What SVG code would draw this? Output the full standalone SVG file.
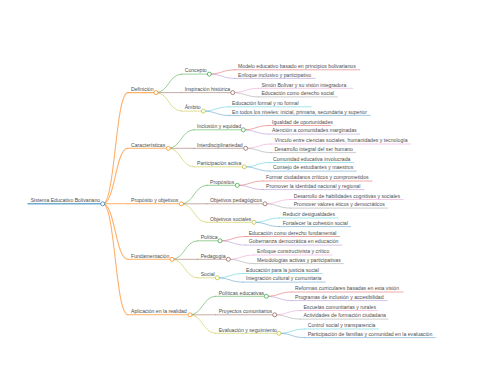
<svg xmlns="http://www.w3.org/2000/svg" width="480" height="384" viewBox="0 0 480 384">
<style>
text{font-family:"Liberation Sans",Arial,Helvetica,sans-serif;font-size:5.15px;fill:#4d4d4d}
path,line{fill:none;stroke-linecap:round;stroke-opacity:0.62}
circle{fill:#fff;stroke-width:0.7}
.d0{stroke-width:1.4}.d1{stroke-width:1.1}.d2{stroke-width:0.8}.d3{stroke-width:0.65}
.cb{stroke:#1f77b4}.co{stroke:#ff7f0e}.cg{stroke:#2ca02c}.cr{stroke:#d62728}.cp{stroke:#9467bd}
.cn{stroke:#8c564b}.ck{stroke:#e377c2}.cy{stroke:#7f7f7f}.cl{stroke:#bcbd22}.cc{stroke:#17becf}
</style>
<rect width="480" height="384" fill="#fff"/>
<g id="connectors">
<path class="d1 co" d="M102.7,203.8 C115.3,203.8 115.3,92.6 128,92.6"/>
<path class="d1 co" d="M102.7,203.8 C115.3,203.8 115.3,148.3 128,148.3"/>
<path class="d1 co" d="M102.7,203.8 L128,203.8"/>
<path class="d1 co" d="M102.7,203.8 C115.3,203.8 115.3,259.3 128,259.3"/>
<path class="d1 co" d="M102.7,203.8 C115.3,203.8 115.3,314.8 128,314.8"/>
<path class="d2 cg" d="M156,92.6 C168.8,92.6 168.8,74.1 181.6,74.1"/>
<path class="d2 cn" d="M156,92.6 L181.6,92.6"/>
<path class="d2 cl" d="M156,92.6 C168.8,92.6 168.8,111.1 181.6,111.1"/>
<path class="d2 cg" d="M168.3,148.3 C181.1,148.3 181.1,129.8 193.9,129.8"/>
<path class="d2 cn" d="M168.3,148.3 L193.9,148.3"/>
<path class="d2 cl" d="M168.3,148.3 C181.1,148.3 181.1,166.8 193.9,166.8"/>
<path class="d2 cg" d="M181.3,203.8 C194.1,203.8 194.1,185.3 206.9,185.3"/>
<path class="d2 cn" d="M181.3,203.8 L206.9,203.8"/>
<path class="d2 cl" d="M181.3,203.8 C194.1,203.8 194.1,222.3 206.9,222.3"/>
<path class="d2 cg" d="M172,259.3 C184.8,259.3 184.8,240.8 197.6,240.8"/>
<path class="d2 cn" d="M172,259.3 L197.6,259.3"/>
<path class="d2 cl" d="M172,259.3 C184.8,259.3 184.8,277.8 197.6,277.8"/>
<path class="d2 cg" d="M190,314.8 C202.8,314.8 202.8,296.3 215.6,296.3"/>
<path class="d2 cn" d="M190,314.8 L215.6,314.8"/>
<path class="d2 cl" d="M190,314.8 C202.8,314.8 202.8,333.3 215.6,333.3"/>
<path class="d3 cr" d="M209.3,74.1 C222.1,74.1 222.1,69.8 234.9,69.8"/>
<path class="d3 cp" d="M209.3,74.1 C222.1,74.1 222.1,78.4 234.9,78.4"/>
<path class="d3 ck" d="M232.7,92.6 C245.5,92.6 245.5,88.3 258.3,88.3"/>
<path class="d3 cy" d="M232.7,92.6 C245.5,92.6 245.5,96.9 258.3,96.9"/>
<path class="d3 cc" d="M203.3,111.1 C216.1,111.1 216.1,106.8 228.9,106.8"/>
<path class="d3 cb" d="M203.3,111.1 C216.1,111.1 216.1,115.4 228.9,115.4"/>
<path class="d3 cr" d="M243.3,129.8 C256.1,129.8 256.1,125.5 268.9,125.5"/>
<path class="d3 cp" d="M243.3,129.8 C256.1,129.8 256.1,134.1 268.9,134.1"/>
<path class="d3 ck" d="M245.7,148.3 C258.5,148.3 258.5,144 271.3,144"/>
<path class="d3 cy" d="M245.7,148.3 C258.5,148.3 258.5,152.6 271.3,152.6"/>
<path class="d3 cc" d="M244.3,166.8 C257.1,166.8 257.1,162.5 269.9,162.5"/>
<path class="d3 cb" d="M244.3,166.8 C257.1,166.8 257.1,171.1 269.9,171.1"/>
<path class="d3 cr" d="M237.3,185.3 C250.1,185.3 250.1,181 262.9,181"/>
<path class="d3 cp" d="M237.3,185.3 C250.1,185.3 250.1,189.6 262.9,189.6"/>
<path class="d3 ck" d="M265,203.8 C277.8,203.8 277.8,199.5 290.6,199.5"/>
<path class="d3 cy" d="M265,203.8 C277.8,203.8 277.8,208.1 290.6,208.1"/>
<path class="d3 cc" d="M254,222.3 C266.8,222.3 266.8,218 279.6,218"/>
<path class="d3 cb" d="M254,222.3 C266.8,222.3 266.8,226.6 279.6,226.6"/>
<path class="d3 cr" d="M220,240.8 C232.8,240.8 232.8,236.5 245.6,236.5"/>
<path class="d3 cp" d="M220,240.8 C232.8,240.8 232.8,245.1 245.6,245.1"/>
<path class="d3 ck" d="M228.3,259.3 C241.1,259.3 241.1,255 253.9,255"/>
<path class="d3 cy" d="M228.3,259.3 C241.1,259.3 241.1,263.6 253.9,263.6"/>
<path class="d3 cc" d="M217.3,277.8 C230.1,277.8 230.1,273.5 242.9,273.5"/>
<path class="d3 cb" d="M217.3,277.8 C230.1,277.8 230.1,282.1 242.9,282.1"/>
<path class="d3 cr" d="M266.3,296.3 C279.1,296.3 279.1,292 291.9,292"/>
<path class="d3 cp" d="M266.3,296.3 C279.1,296.3 279.1,300.6 291.9,300.6"/>
<path class="d3 ck" d="M274.7,314.8 C287.5,314.8 287.5,310.5 300.3,310.5"/>
<path class="d3 cy" d="M274.7,314.8 C287.5,314.8 287.5,319.1 300.3,319.1"/>
<path class="d3 cc" d="M279,333.3 C291.8,333.3 291.8,329 304.6,329"/>
<path class="d3 cb" d="M279,333.3 C291.8,333.3 291.8,337.6 304.6,337.6"/>
</g>
<g id="root"><line class="d0 cb" x1="28" y1="203.8" x2="102.7" y2="203.8"/><circle class="cb" cx="102.7" cy="203.8" r="2"/><text x="30.7" y="202">Sistema Educativo Bolivariano</text></g>
<g id="n-definicion"><line class="d1 co" x1="128" y1="92.6" x2="156" y2="92.6"/><circle class="co" cx="156" cy="92.6" r="2"/><text x="131" y="90.8">Definición</text></g>
<g id="n-caracteristicas"><line class="d1 co" x1="128" y1="148.3" x2="168.3" y2="148.3"/><circle class="co" cx="168.3" cy="148.3" r="2"/><text x="131" y="146.5">Características</text></g>
<g id="n-proposito"><line class="d1 co" x1="128" y1="203.8" x2="181.3" y2="203.8"/><circle class="co" cx="181.3" cy="203.8" r="2"/><text x="131" y="202">Propósito y objetivos</text></g>
<g id="n-fundamentacion"><line class="d1 co" x1="128" y1="259.3" x2="172" y2="259.3"/><circle class="co" cx="172" cy="259.3" r="2"/><text x="131" y="257.5">Fundamentación</text></g>
<g id="n-aplicacion"><line class="d1 co" x1="128" y1="314.8" x2="190" y2="314.8"/><circle class="co" cx="190" cy="314.8" r="2"/><text x="131" y="313">Aplicación en la realidad</text></g>
<g id="n-concepto"><line class="d2 cg" x1="181.6" y1="74.1" x2="209.3" y2="74.1"/><circle class="cg" cx="209.3" cy="74.1" r="2"/><text x="184.7" y="72.3">Concepto</text></g>
<g id="n-inspiracion"><line class="d2 cn" x1="181.6" y1="92.6" x2="232.7" y2="92.6"/><circle class="cn" cx="232.7" cy="92.6" r="2"/><text x="184.7" y="90.8">Inspiración histórica</text></g>
<g id="n-ambito"><line class="d2 cl" x1="181.6" y1="111.1" x2="203.3" y2="111.1"/><circle class="cl" cx="203.3" cy="111.1" r="2"/><text x="184.7" y="109.3">Ámbito</text></g>
<g id="n-inclusion"><line class="d2 cg" x1="193.9" y1="129.8" x2="243.3" y2="129.8"/><circle class="cg" cx="243.3" cy="129.8" r="2"/><text x="197" y="128">Inclusión y equidad</text></g>
<g id="n-interdisciplinariedad"><line class="d2 cn" x1="193.9" y1="148.3" x2="245.7" y2="148.3"/><circle class="cn" cx="245.7" cy="148.3" r="2"/><text x="197" y="146.5">Interdisciplinariedad</text></g>
<g id="n-participacion"><line class="d2 cl" x1="193.9" y1="166.8" x2="244.3" y2="166.8"/><circle class="cl" cx="244.3" cy="166.8" r="2"/><text x="197" y="165">Participación activa</text></g>
<g id="n-propositos"><line class="d2 cg" x1="206.9" y1="185.3" x2="237.3" y2="185.3"/><circle class="cg" cx="237.3" cy="185.3" r="2"/><text x="210" y="183.5">Propósitos</text></g>
<g id="n-obj-pedagogicos"><line class="d2 cn" x1="206.9" y1="203.8" x2="265" y2="203.8"/><circle class="cn" cx="265" cy="203.8" r="2"/><text x="210" y="202">Objetivos pedagógicos</text></g>
<g id="n-obj-sociales"><line class="d2 cl" x1="206.9" y1="222.3" x2="254" y2="222.3"/><circle class="cl" cx="254" cy="222.3" r="2"/><text x="210" y="220.5">Objetivos sociales</text></g>
<g id="n-politica"><line class="d2 cg" x1="197.6" y1="240.8" x2="220" y2="240.8"/><circle class="cg" cx="220" cy="240.8" r="2"/><text x="200.7" y="239">Política</text></g>
<g id="n-pedagogia"><line class="d2 cn" x1="197.6" y1="259.3" x2="228.3" y2="259.3"/><circle class="cn" cx="228.3" cy="259.3" r="2"/><text x="200.7" y="257.5">Pedagogía</text></g>
<g id="n-social"><line class="d2 cl" x1="197.6" y1="277.8" x2="217.3" y2="277.8"/><circle class="cl" cx="217.3" cy="277.8" r="2"/><text x="200.7" y="276">Social</text></g>
<g id="n-politicas-educativas"><line class="d2 cg" x1="215.6" y1="296.3" x2="266.3" y2="296.3"/><circle class="cg" cx="266.3" cy="296.3" r="2"/><text x="218.7" y="294.5">Políticas educativas</text></g>
<g id="n-proyectos"><line class="d2 cn" x1="215.6" y1="314.8" x2="274.7" y2="314.8"/><circle class="cn" cx="274.7" cy="314.8" r="2"/><text x="218.7" y="313">Proyectos comunitarios</text></g>
<g id="n-evaluacion"><line class="d2 cl" x1="215.6" y1="333.3" x2="279" y2="333.3"/><circle class="cl" cx="279" cy="333.3" r="2"/><text x="218.7" y="331.5">Evaluación y seguimiento</text></g>
<g id="l-modelo"><line class="d3 cr" x1="234.9" y1="69.8" x2="359.7" y2="69.8"/><text x="238" y="68">Modelo educativo basado en principios bolivarianos</text></g>
<g id="l-enfoque-inclusivo"><line class="d3 cp" x1="234.9" y1="78.4" x2="315.3" y2="78.4"/><text x="238" y="76.6">Enfoque inclusivo y participativo</text></g>
<g id="l-simon"><line class="d3 ck" x1="258.3" y1="88.3" x2="353" y2="88.3"/><text x="261.4" y="86.5">Simón Bolívar y su visión integradora</text></g>
<g id="l-derecho-social"><line class="d3 cy" x1="258.3" y1="96.9" x2="337.3" y2="96.9"/><text x="261.4" y="95.1">Educación como derecho social</text></g>
<g id="l-formal"><line class="d3 cc" x1="228.9" y1="106.8" x2="311.3" y2="106.8"/><text x="232" y="105">Educación formal y no formal</text></g>
<g id="l-niveles"><line class="d3 cb" x1="228.9" y1="115.4" x2="370.3" y2="115.4"/><text x="232" y="113.6">En todos los niveles: inicial, primaria, secundaria y superior</text></g>
<g id="l-igualdad"><line class="d3 cr" x1="268.9" y1="125.5" x2="330.7" y2="125.5"/><text x="272" y="123.7">Igualdad de oportunidades</text></g>
<g id="l-atencion"><line class="d3 cp" x1="268.9" y1="134.1" x2="359.7" y2="134.1"/><text x="272" y="132.3">Atención a comunidades marginadas</text></g>
<g id="l-vinculo"><line class="d3 ck" x1="271.3" y1="144" x2="410.7" y2="144"/><text x="274.4" y="142.2">Vínculo entre ciencias sociales, humanidades y tecnología</text></g>
<g id="l-desarrollo-integral"><line class="d3 cy" x1="271.3" y1="152.6" x2="355.7" y2="152.6"/><text x="274.4" y="150.8">Desarrollo integral del ser humano</text></g>
<g id="l-comunidad"><line class="d3 cc" x1="269.9" y1="162.5" x2="353.7" y2="162.5"/><text x="273" y="160.7">Comunidad educativa involucrada</text></g>
<g id="l-consejo"><line class="d3 cb" x1="269.9" y1="171.1" x2="356.3" y2="171.1"/><text x="273" y="169.3">Consejo de estudiantes y maestros</text></g>
<g id="l-formar"><line class="d3 cr" x1="262.9" y1="181" x2="372" y2="181"/><text x="266" y="179.2">Formar ciudadanos críticos y comprometidos</text></g>
<g id="l-identidad"><line class="d3 cp" x1="262.9" y1="189.6" x2="364" y2="189.6"/><text x="266" y="187.8">Promover la identidad nacional y regional</text></g>
<g id="l-habilidades"><line class="d3 ck" x1="290.6" y1="199.5" x2="403" y2="199.5"/><text x="293.7" y="197.7">Desarrollo de habilidades cognitivas y sociales</text></g>
<g id="l-valores"><line class="d3 cy" x1="290.6" y1="208.1" x2="387.3" y2="208.1"/><text x="293.7" y="206.3">Promover valores éticos y democráticos</text></g>
<g id="l-desigualdades"><line class="d3 cc" x1="279.6" y1="218" x2="338" y2="218"/><text x="282.7" y="216.2">Reducir desigualdades</text></g>
<g id="l-cohesion"><line class="d3 cb" x1="279.6" y1="226.6" x2="350.7" y2="226.6"/><text x="282.7" y="224.8">Fortalecer la cohesión social</text></g>
<g id="l-derecho-fundamental"><line class="d3 cr" x1="245.6" y1="236.5" x2="339.7" y2="236.5"/><text x="248.7" y="234.7">Educación como derecho fundamental</text></g>
<g id="l-gobernanza"><line class="d3 cp" x1="245.6" y1="245.1" x2="342" y2="245.1"/><text x="248.7" y="243.3">Gobernanza democrática en educación</text></g>
<g id="l-constructivista"><line class="d3 ck" x1="253.9" y1="255" x2="332" y2="255"/><text x="257" y="253.2">Enfoque constructivista y crítico</text></g>
<g id="l-metodologias"><line class="d3 cy" x1="253.9" y1="263.6" x2="343.3" y2="263.6"/><text x="257" y="261.8">Metodologías activas y participativas</text></g>
<g id="l-justicia"><line class="d3 cc" x1="242.9" y1="273.5" x2="322" y2="273.5"/><text x="246" y="271.7">Educación para la justicia social</text></g>
<g id="l-integracion"><line class="d3 cb" x1="242.9" y1="282.1" x2="325.3" y2="282.1"/><text x="246" y="280.3">Integración cultural y comunitaria</text></g>
<g id="l-reformas"><line class="d3 cr" x1="291.9" y1="292" x2="403" y2="292"/><text x="295" y="290.2">Reformas curriculares basadas en esta visión</text></g>
<g id="l-programas"><line class="d3 cp" x1="291.9" y1="300.6" x2="387" y2="300.6"/><text x="295" y="298.8">Programas de inclusión y accesibilidad</text></g>
<g id="l-escuelas"><line class="d3 ck" x1="300.3" y1="310.5" x2="378" y2="310.5"/><text x="303.4" y="308.7">Escuelas comunitarias y rurales</text></g>
<g id="l-actividades"><line class="d3 cy" x1="300.3" y1="319.1" x2="388" y2="319.1"/><text x="303.4" y="317.3">Actividades de formación ciudadana</text></g>
<g id="l-control"><line class="d3 cc" x1="304.6" y1="329" x2="378.7" y2="329"/><text x="307.7" y="327.2">Control social y transparencia</text></g>
<g id="l-familias"><line class="d3 cb" x1="304.6" y1="337.6" x2="435.3" y2="337.6"/><text x="307.7" y="335.8">Participación de familias y comunidad en la evaluación</text></g>
</svg>
